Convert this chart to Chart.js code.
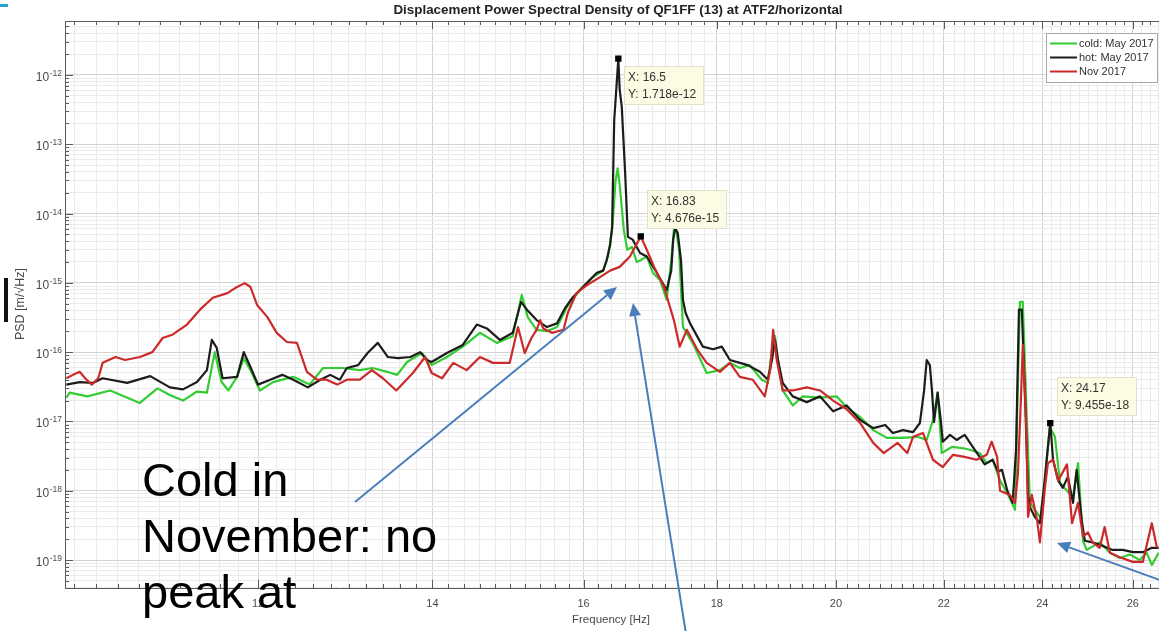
<!DOCTYPE html>
<html>
<head>
<meta charset="utf-8">
<script src="https://cdn.jsdelivr.net/npm/chart.js@4.4.1/dist/chart.umd.min.js"></script>
<style>
  html, body { margin: 0; padding: 0; background: #ffffff; overflow: hidden; }
  canvas { display: block; }
</style>
</head>
<body>
<!-- the plot box runs past the right edge of the view, as on the slide -->
<canvas id="psd" width="1164" height="631"></canvas>
<script>
// ---- measured spectra (frequency in Hz, PSD in m/sqrt(Hz)) ----
const coldFreq = [10.13,10.16,10.32,10.53,10.81,10.98,11.10,11.23,11.37,11.47,
  11.55,11.62,11.69,11.78,11.85,11.92,12.02,12.16,12.38,12.56,
  12.71,12.93,13.13,13.28,13.45,13.57,13.69,13.87,13.99,14.18,
  14.38,14.60,14.82,15.03,15.15,15.23,15.35,15.49,15.63,15.77,
  15.95,16.13,16.28,16.35,16.41,16.46,16.49,16.52,16.58,16.63,
  16.70,16.77,16.82,16.92,17.01,17.12,17.22,17.29,17.33,17.36,
  17.41,17.47,17.62,17.84,18.05,18.21,18.37,18.53,18.73,18.83,
  18.90,18.95,19.00,19.08,19.25,19.42,19.72,20.01,20.19,20.43,
  20.67,20.92,21.22,21.49,21.67,21.79,21.88,21.96,22.16,22.38,
  22.51,22.71,22.85,22.97,23.12,23.27,23.43,23.47,23.53,23.59,
  23.66,23.74,23.89,23.99,24.07,24.16,24.27,24.38,24.53,24.66,
  24.77,24.88,24.96,25.25,25.48,25.70,25.93,26.16,26.32,26.44,
  26.60];
const coldPsd = [2.2e-17,2.6e-17,2.3e-17,2.8e-17,1.85e-17,3.0e-17,2.4e-17,2.0e-17,2.7e-17,2.6e-17,
  1.0e-16,3.7e-17,2.8e-17,4.4e-17,8.2e-17,5.5e-17,2.8e-17,3.7e-17,4.4e-17,3.4e-17,
  5.9e-17,5.9e-17,5.5e-17,5.9e-17,5.2e-17,4.7e-17,7.2e-17,9.7e-17,6.5e-17,8.5e-17,
  1.2e-16,1.9e-16,1.36e-16,1.7e-16,6.7e-16,3.2e-16,2.1e-16,2.0e-16,2.3e-16,4.5e-16,
  7.9e-16,1.2e-15,1.5e-15,2.4e-15,5.8e-15,3.0e-14,4.5e-14,2.6e-14,5.8e-15,3.0e-15,
  3.3e-15,2.0e-15,2.1e-15,2.4e-15,1.4e-15,1.1e-15,5.7e-16,2.1e-15,5.8e-15,6.2e-15,
  3.0e-15,2.3e-16,1.36e-16,5.0e-17,5.5e-17,7.0e-17,5.9e-17,6.5e-17,4.0e-17,3.6e-17,
  1.1e-16,1.7e-16,7.7e-17,2.8e-17,1.7e-17,2.3e-17,2.2e-17,2.3e-17,1.6e-17,1.16e-17,
  7.5e-18,5.8e-18,5.8e-18,6.0e-18,5.4e-18,1.05e-17,2.6e-17,3.5e-18,4.3e-18,4.1e-18,
  3.9e-18,3.5e-18,2.5e-18,2.8e-18,1.4e-18,9.3e-19,5.3e-19,1.05e-17,5.3e-16,5.3e-16,
  2.0e-17,6.7e-19,4.8e-19,3.8e-19,1.8e-18,8.3e-18,6.0e-18,1.3e-18,1.0e-18,8.1e-19,
  2.5e-18,1.9e-19,1.4e-19,1.8e-19,1.27e-19,1.07e-19,1.2e-19,1.0e-19,1.27e-19,8.5e-20,
  1.27e-19];

const hotFreq = [10.13,10.25,10.37,10.46,10.69,10.91,11.10,11.23,11.37,11.47,
  11.52,11.57,11.63,11.78,11.85,11.92,12.00,12.13,12.26,12.38,
  12.54,12.68,12.79,12.90,12.98,13.11,13.22,13.34,13.46,13.58,
  13.73,13.85,13.93,13.99,14.18,14.38,14.56,14.69,14.86,15.03,
  15.14,15.22,15.35,15.49,15.63,15.74,15.85,16.05,16.19,16.28,
  16.33,16.38,16.41,16.44,16.5,16.52,16.55,16.60,16.64,16.71,
  16.82,16.92,17.07,17.22,17.29,17.32,17.35,17.39,17.44,17.47,
  17.51,17.58,17.78,17.94,18.08,18.21,18.37,18.50,18.70,18.83,
  18.90,18.95,19.00,19.08,19.25,19.49,19.72,19.95,20.19,20.43,
  20.67,20.89,21.03,21.22,21.41,21.54,21.62,21.67,21.73,21.77,
  21.81,21.88,21.94,21.98,22.12,22.25,22.41,22.57,22.81,22.97,
  23.08,23.16,23.27,23.38,23.45,23.51,23.57,23.64,23.70,23.74,
  23.84,23.95,24.05,24.17,24.23,24.34,24.44,24.55,24.66,24.74,
  24.85,24.92,25.09,25.32,25.54,25.77,26.00,26.23,26.44,26.60];
const hotPsd = [3.4e-17,3.7e-17,3.6e-17,4.2e-17,3.6e-17,4.5e-17,3.1e-17,2.9e-17,3.7e-17,5.5e-17,
  1.5e-16,1.15e-16,4.2e-17,4.4e-17,1.0e-16,6.1e-17,3.4e-17,4.0e-17,4.7e-17,4.0e-17,
  3.1e-17,4.0e-17,4.7e-17,4.0e-17,5.9e-17,6.5e-17,9.7e-17,1.36e-16,8.5e-17,8.2e-17,
  8.5e-17,1.0e-16,7.7e-17,7.2e-17,9.7e-17,1.27e-16,2.5e-16,2.2e-16,1.5e-16,1.9e-16,
  5.3e-16,4.1e-16,2.9e-16,2.3e-16,2.6e-16,4.3e-16,6.2e-16,1.0e-15,1.4e-15,1.5e-15,
  2.1e-15,3.5e-15,6.4e-15,2.2e-13,1.718e-12,6.1e-13,3.5e-13,3.8e-14,4.6e-15,4.2e-15,
  2.7e-15,2.4e-15,1.4e-15,7.9e-16,1.5e-15,4.2e-15,6.2e-15,5.2e-15,2.1e-15,5.7e-16,
  3.7e-16,2.6e-16,1.2e-16,1.1e-16,1.2e-16,7.7e-17,7.0e-17,6.5e-17,5.2e-17,4.0e-17,
  7.7e-17,1.5e-16,7.7e-17,3.6e-17,2.3e-17,1.9e-17,2.3e-17,1.4e-17,1.7e-17,1.05e-17,
  8.0e-18,8.9e-18,6.8e-18,7.5e-18,7.0e-18,9.5e-18,2.8e-17,7.7e-17,6.5e-17,2.8e-17,
  9.8e-18,2.6e-17,1.05e-17,5.1e-18,6.4e-18,5.4e-18,6.4e-18,4.3e-18,2.4e-18,2.8e-18,
  1.9e-18,2.0e-18,1.0e-18,6.7e-19,3.9e-18,4.1e-16,4.1e-16,2.0e-17,8.7e-19,5.8e-19,
  4.2e-19,3.4e-19,1.4e-18,9.455e-18,2.8e-18,1.4e-18,1.1e-18,1.6e-18,6.7e-19,2.0e-18,
  3.8e-19,1.9e-19,1.8e-19,1.6e-19,1.4e-19,1.4e-19,1.3e-19,1.3e-19,1.5e-19,1.5e-19];

const novFreq = [10.13,10.19,10.25,10.30,10.36,10.42,10.46,10.58,10.67,10.81,
  10.93,11.03,11.13,11.27,11.40,11.53,11.68,11.76,11.86,11.92,
  11.99,12.10,12.20,12.31,12.42,12.53,12.64,12.75,12.87,12.98,
  13.13,13.27,13.40,13.56,13.76,13.91,13.99,14.12,14.26,14.43,
  14.60,14.77,14.99,15.10,15.19,15.28,15.35,15.40,15.44,15.56,
  15.72,15.78,15.90,16.05,16.23,16.38,16.52,16.67,16.78,16.83,
  16.92,17.03,17.18,17.33,17.42,17.53,17.69,17.84,18.05,18.21,
  18.37,18.58,18.78,18.87,18.92,18.98,19.08,19.25,19.49,19.72,
  19.95,20.19,20.43,20.67,20.86,21.12,21.30,21.41,21.60,21.79,
  21.98,22.18,22.38,22.65,22.85,22.95,23.06,23.12,23.32,23.43,
  23.49,23.55,23.59,23.66,23.70,23.78,23.89,23.95,24.05,24.12,
  24.23,24.34,24.53,24.64,24.77,24.88,24.99,25.09,25.25,25.36,
  25.48,25.70,26.00,26.23,26.44,26.56];
const novPsd = [4.2e-17,4.7e-17,5.2e-17,4.2e-17,3.4e-17,4.2e-17,7.0e-17,8.5e-17,7.7e-17,8.5e-17,
  1.0e-16,1.6e-16,1.8e-16,2.5e-16,4.1e-16,6.1e-16,7.1e-16,8.4e-16,9.9e-16,8.7e-16,
  4.8e-16,3.2e-16,1.9e-16,1.4e-16,1.36e-16,5.2e-17,4.0e-17,4.0e-17,3.4e-17,4.0e-17,
  4.0e-17,5.5e-17,4.2e-17,2.8e-17,5.0e-17,8.5e-17,5.0e-17,4.2e-17,7.0e-17,5.5e-17,
  8.5e-17,7.0e-17,7.0e-17,2.3e-16,9.7e-17,1.6e-16,2.1e-16,2.9e-16,2.2e-16,1.9e-16,
  2.1e-16,3.7e-16,7.1e-16,9.3e-16,1.2e-15,1.5e-15,1.7e-15,2.4e-15,3.8e-15,4.676e-15,
  3.0e-15,1.7e-15,8.7e-16,2.9e-16,1.2e-16,2.1e-16,1.1e-16,7.0e-17,5.2e-17,7.0e-17,
  4.4e-17,4.0e-17,2.3e-17,5.5e-17,2.1e-16,7.7e-17,2.8e-17,2.8e-17,3.1e-17,2.8e-17,
  2.0e-17,1.5e-17,9.5e-18,4.9e-18,3.5e-18,4.9e-18,3.5e-18,6.0e-18,6.8e-18,2.8e-18,
  2.2e-18,3.3e-18,3.1e-18,2.8e-18,3.3e-18,5.1e-18,3.1e-18,1.0e-18,8.7e-19,6.7e-19,
  1.8e-18,2.0e-17,1.27e-16,1.05e-17,4.2e-19,8.7e-19,3.8e-19,1.8e-19,1.0e-18,2.5e-18,
  2.8e-18,1.4e-18,2.4e-18,3.4e-19,6.7e-19,2.2e-19,2.5e-19,1.8e-19,1.5e-19,3.0e-19,
  1.27e-19,1.1e-19,9.4e-20,9.4e-20,3.4e-19,1.5e-19];

// data cursors placed on the spectra
const tipFreq = [16.5, 16.83, 24.17];
const tipPsd = [1.718e-12, 4.676e-15, 9.455e-18];

// axis ticks
const xTickLabels = [12, 14, 16, 18, 20, 22, 24, 26];
const yDecadeExponents = [-19, -18, -17, -16, -15, -14, -13, -12];

const seriesNames = ['cold: May 2017', 'hot: May 2017', 'Nov 2017'];

// ---- drawing ----
const FONT = '"Liberation Sans", Arial, Helvetica, sans-serif';
const COLORS = { cold: '#33cc33', hot: '#1c1c1c', nov: '#cc2a2a' };
const X_MIN = 10.118, X_MAX = 26.62;
const Y_MIN = 3.95e-20, Y_MAX = 6.0e-12;

const toPoints = (fs, ps) => fs.map((f, i) => ({ x: f, y: ps[i] }));

// minor x ticks every 0.2 Hz, labelled every 2 Hz
const xTickValues = [];
for (let k = Math.ceil(X_MIN * 5); k <= Math.floor(X_MAX * 5); k++) xTickValues.push(k / 5);
const isLabelledX = v => xTickLabels.some(t => Math.abs(t - v) < 1e-6);

// log ticks 1..9 x 10^n
const yTickValues = [];
for (let n = -20; n <= -12; n++) {
  for (let m = 1; m <= 9; m++) {
    const v = m * Math.pow(10, n);
    if (v >= Y_MIN && v <= Y_MAX) yTickValues.push({ value: v, major: m === 1 });
  }
}
const isDecade = v => yTickValues.some(o => o.major && o.value === v);

const overlay = {
  id: 'overlay',
  afterDraw(chart) {
    const { ctx, chartArea: a, scales: { x, y } } = chart;
    ctx.save();

    // axes box (left, top, bottom)
    ctx.strokeStyle = '#5a5a5a';
    ctx.lineWidth = 1;
    ctx.beginPath();
    ctx.moveTo(a.right + 2, a.top + 0.5);
    ctx.lineTo(a.left + 0.5, a.top + 0.5);
    ctx.lineTo(a.left + 0.5, a.bottom + 0.5);
    ctx.lineTo(a.right + 2, a.bottom + 0.5);
    ctx.stroke();

    // inward tick marks
    ctx.beginPath();
    x.ticks.forEach(t => {
      const px = Math.round(x.getPixelForValue(t.value)) + 0.5;
      const len = isLabelledX(t.value) ? 8 : 4;
      ctx.moveTo(px, a.bottom); ctx.lineTo(px, a.bottom - len);
      ctx.moveTo(px, a.top); ctx.lineTo(px, a.top + len);
    });
    y.ticks.forEach(t => {
      const py = Math.round(y.getPixelForValue(t.value)) + 0.5;
      ctx.moveTo(a.left, py); ctx.lineTo(a.left + (isDecade(t.value) ? 8 : 4), py);
    });
    ctx.stroke();

    // y decade labels 10^n
    ctx.fillStyle = '#4a4a4a';
    ctx.textBaseline = 'alphabetic';
    yDecadeExponents.forEach(n => {
      const py = y.getPixelForValue(Math.pow(10, n));
      const exp = String(n);
      ctx.font = `8.5px ${FONT}`;
      const ew = ctx.measureText(exp).width;
      ctx.textAlign = 'left';
      ctx.fillText(exp, 62 - ew, py + 1);
      ctx.font = `12px ${FONT}`;
      ctx.textAlign = 'right';
      ctx.fillText('10', 62 - ew - 0.5, py + 6);
    });

    // title and axis labels
    ctx.fillStyle = '#222';
    ctx.font = `bold 13.4px ${FONT}`;
    ctx.textAlign = 'center';
    ctx.textBaseline = 'middle';
    ctx.fillText('Displacement Power Spectral Density of QF1FF (13) at ATF2/horizontal', 618, 10);

    ctx.fillStyle = '#4a4a4a';
    ctx.font = `11.5px ${FONT}`;
    ctx.fillText('Frequency [Hz]', 611, 620);
    ctx.save();
    ctx.translate(21, 304);
    ctx.rotate(-Math.PI / 2);
    ctx.font = `12.5px ${FONT}`;
    ctx.fillText('PSD [m/\u221AHz]', 0, 0);
    ctx.restore();

    // legend
    const lx = 1046, ly = 33, lw = 111, lh = 49;
    ctx.fillStyle = '#ffffff';
    ctx.fillRect(lx, ly, lw, lh);
    ctx.strokeStyle = '#a8a8a8';
    ctx.lineWidth = 1;
    ctx.strokeRect(lx + 0.5, ly + 0.5, lw, lh);
    const legColors = [COLORS.cold, COLORS.hot, COLORS.nov];
    seriesNames.forEach((name, i) => {
      const ry = ly + 10.5 + i * 14;
      ctx.strokeStyle = legColors[i];
      ctx.lineWidth = 2;
      ctx.beginPath(); ctx.moveTo(lx + 4, ry); ctx.lineTo(lx + 31, ry); ctx.stroke();
      ctx.fillStyle = '#333';
      ctx.font = `11px ${FONT}`;
      ctx.textAlign = 'left';
      ctx.textBaseline = 'middle';
      ctx.fillText(name, lx + 33, ry + 0.5);
    });

    // data cursor boxes
    const boxOffsets = [[6, 7], [6, -46], [7, -46]];
    tipFreq.forEach((f, i) => {
      const mx = x.getPixelForValue(f), my = y.getPixelForValue(tipPsd[i]);
      const bx = Math.round(mx + boxOffsets[i][0]), by = Math.round(my + boxOffsets[i][1]);
      const bw = 80, bh = 39;
      ctx.fillStyle = '#fcfbe3';
      ctx.fillRect(bx, by, bw, bh);
      ctx.strokeStyle = '#e2e2cc';
      ctx.lineWidth = 1;
      ctx.strokeRect(bx + 0.5, by + 0.5, bw - 1, bh - 1);
      ctx.fillStyle = '#333';
      ctx.font = `12px ${FONT}`;
      ctx.textAlign = 'left';
      ctx.textBaseline = 'middle';
      ctx.fillText('X: ' + f, bx + 4, by + 12);
      ctx.fillText('Y: ' + tipPsd[i].toExponential(3), bx + 4, by + 29);
    });

    // slide annotation
    ctx.fillStyle = '#000';
    ctx.font = `47px ${FONT}`;
    ctx.textAlign = 'left';
    ctx.textBaseline = 'alphabetic';
    ['Cold in', 'November: no', 'peak at'].forEach((t, i) => ctx.fillText(t, 142, 496 + i * 56));

    const arrow = (x0, y0, x1, y1) => {
      ctx.strokeStyle = '#4a7ebb';
      ctx.fillStyle = '#4a7ebb';
      ctx.lineWidth = 2;
      const ang = Math.atan2(y1 - y0, x1 - x0);
      const hl = 13, hw = 6;
      const bx = x1 - hl * Math.cos(ang), by = y1 - hl * Math.sin(ang);
      ctx.beginPath(); ctx.moveTo(x0, y0); ctx.lineTo(bx, by); ctx.stroke();
      ctx.beginPath();
      ctx.moveTo(x1, y1);
      ctx.lineTo(bx + hw * Math.sin(ang), by - hw * Math.cos(ang));
      ctx.lineTo(bx - hw * Math.sin(ang), by + hw * Math.cos(ang));
      ctx.closePath(); ctx.fill();
    };
    arrow(355, 502, 617, 287);
    arrow(687, 640, 633, 303);
    arrow(1168, 583, 1057, 543);

    // slide frame marks
    ctx.fillStyle = '#22a6d6';
    ctx.fillRect(0, 4, 8, 3);
    ctx.fillStyle = '#111';
    ctx.fillRect(4, 278, 4, 44);

    ctx.restore();
  }
};

const gridColor = major => major ? '#d3d3d3' : '#ebebeb';

new Chart(document.getElementById('psd').getContext('2d'), {
  type: 'line',
  data: {
    datasets: [
      { label: seriesNames[0], data: toPoints(coldFreq, coldPsd), borderColor: COLORS.cold, order: 3 },
      { label: seriesNames[1], data: toPoints(hotFreq, hotPsd), borderColor: COLORS.hot, order: 2 },
      { label: seriesNames[2], data: toPoints(novFreq, novPsd), borderColor: COLORS.nov, order: 1 },
      { type: 'scatter', label: 'cursor', data: toPoints(tipFreq, tipPsd), pointStyle: 'rect',
        pointRadius: 4.5, backgroundColor: '#000', borderColor: '#000', borderWidth: 0, order: 0 }
    ]
  },
  options: {
    responsive: false,
    animation: false,
    devicePixelRatio: 1,
    layout: { padding: { top: 21, left: 0, right: 0, bottom: 0 } },
    elements: {
      line: { borderWidth: 2.2, tension: 0, borderJoinStyle: 'round', fill: false },
      point: { radius: 0 }
    },
    plugins: { legend: { display: false }, tooltip: { enabled: false }, title: { display: false } },
    scales: {
      x: {
        type: 'logarithmic', min: X_MIN, max: X_MAX,
        afterBuildTicks: s => { s.ticks = xTickValues.map(v => ({ value: v })); },
        afterFit: s => { s.height = 43; s.paddingLeft = 0; s.paddingRight = 0; },
        border: { display: false },
        grid: { drawTicks: false, color: c => gridColor(c.tick && isLabelledX(c.tick.value)) },
        ticks: {
          autoSkip: false, maxRotation: 0, minRotation: 0, padding: 9,
          color: '#4a4a4a', font: { family: FONT, size: 11 },
          callback: v => isLabelledX(v) ? String(Math.round(v)) : ''
        }
      },
      y: {
        type: 'logarithmic', min: Y_MIN, max: Y_MAX,
        afterBuildTicks: s => { s.ticks = yTickValues.map(o => ({ value: o.value })); },
        afterFit: s => { s.width = 65; s.paddingTop = 0; s.paddingBottom = 0; },
        border: { display: false },
        grid: { drawTicks: false, color: c => gridColor(c.tick && isDecade(c.tick.value)) },
        ticks: { display: false }
      }
    }
  },
  plugins: [overlay]
});
</script>
</body>
</html>
